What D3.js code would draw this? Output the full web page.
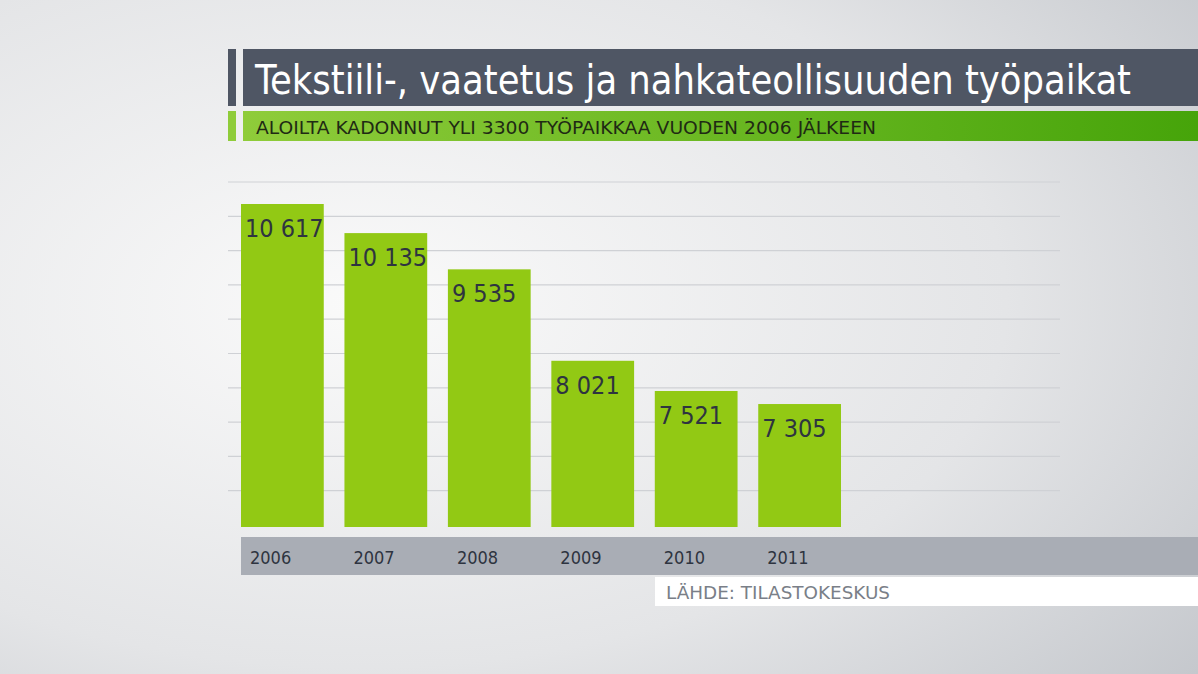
<!DOCTYPE html>
<html><head><meta charset="utf-8">
<script src="https://cdn.jsdelivr.net/npm/d3@7"></script>
<style>body{margin:0;overflow:hidden}</style>
</head><body>
<script>
var years = ["2006", "2007", "2008", "2009", "2010", "2011"];
var jobs = [10617, 10135, 9535, 8021, 7521, 7305];
var labels = ["10 617", "10 135", "9 535", "8 021", "7 521", "7 305"];

var W = 1198, H = 674;
var svg = d3.select("body").append("svg").attr("width", W).attr("height", H);
var defs = svg.append("defs");

var bg = defs.append("radialGradient").attr("id", "bg")
  .attr("cx", "0.3").attr("cy", "0.45").attr("r", "0.9");
bg.append("stop").attr("offset", "0").attr("stop-color", "#fafafa");
bg.append("stop").attr("offset", "0.6").attr("stop-color", "#e4e5e7");
bg.append("stop").attr("offset", "1").attr("stop-color", "#c4c7cc");
svg.append("rect").attr("width", W).attr("height", H).attr("fill", "url(#bg)");

var sg = defs.append("linearGradient").attr("id", "sub");
sg.append("stop").attr("offset", "0").attr("stop-color", "#8fcc3a");
sg.append("stop").attr("offset", "1").attr("stop-color", "#46a40a");

// title
svg.append("rect").attr("x", 228).attr("y", 49).attr("width", 8).attr("height", 57).attr("fill", "#4f5664");
svg.append("rect").attr("x", 243).attr("y", 49).attr("width", W - 243).attr("height", 57).attr("fill", "#4f5664");
svg.append("text").attr("x", 255).attr("y", 94)
  .attr("font-family", "DejaVu Sans Condensed, Open Sans").attr("font-size", 41)
  .attr("textLength", 876).attr("lengthAdjust", "spacingAndGlyphs")
  .attr("fill", "#fff").text("Tekstiili-, vaatetus ja nahkateollisuuden työpaikat");

// subtitle
svg.append("rect").attr("x", 228).attr("y", 111).attr("width", 8).attr("height", 30).attr("fill", "#8fcc3a");
svg.append("rect").attr("x", 243).attr("y", 111).attr("width", W - 243).attr("height", 30).attr("fill", "url(#sub)");
svg.append("text").attr("x", 256).attr("y", 134)
  .attr("font-family", "DejaVu Sans, Open Sans").attr("font-size", 17)
  .attr("textLength", 620).attr("lengthAdjust", "spacingAndGlyphs")
  .attr("fill", "#1f2a14").text("ALOILTA KADONNUT YLI 3300 TYÖPAIKKAA VUODEN 2006 JÄLKEEN");

// scales
var x = d3.scaleBand().domain(years).range([241, 841]).paddingInner(0.2).paddingOuter(0);
var y = d3.scaleLinear().domain([5269, 10617]).range([527, 204]);

// gridlines
d3.range(10).forEach(function(i){
  var gy = 182 + i * 34.3;
  svg.append("line").attr("x1", 228).attr("x2", 1060).attr("y1", gy).attr("y2", gy)
    .attr("stroke", "#cfd1d5").attr("stroke-width", 1.2);
});

var bars = svg.selectAll("g.bar").data(years).enter().append("g");
bars.append("rect")
  .attr("x", function(d){ return x(d); })
  .attr("y", function(d, i){ return y(jobs[i]); })
  .attr("width", x.bandwidth())
  .attr("height", function(d, i){ return 527 - y(jobs[i]); })
  .attr("fill", "#92c914");
bars.append("text")
  .attr("x", function(d){ return x(d) + 4; })
  .attr("y", function(d, i){ return y(jobs[i]) + 33; })
  .attr("font-family", "DejaVu Sans Condensed, Open Sans").attr("font-size", 25)
  .attr("fill", "#2e3440").text(function(d, i){ return labels[i]; });

// axis band
svg.append("rect").attr("x", 241).attr("y", 537).attr("width", W - 241).attr("height", 38).attr("fill", "#a9adb5");
var xa = svg.append("g").attr("transform", "translate(0,564)");
xa.selectAll("text").data(years).enter().append("text")
  .attr("x", function(d){ return x(d) + 9; })
  .attr("font-family", "DejaVu Sans Condensed, Open Sans").attr("font-size", 18)
  .attr("fill", "#2e3440").text(function(d){ return d; });

// source
svg.append("rect").attr("x", 655).attr("y", 577).attr("width", W - 655).attr("height", 29).attr("fill", "#fff");
svg.append("text").attr("x", 666).attr("y", 599)
  .attr("font-family", "DejaVu Sans, Open Sans").attr("font-size", 18)
  .attr("textLength", 224).attr("lengthAdjust", "spacingAndGlyphs")
  .attr("fill", "#7a7f88").text("LÄHDE: TILASTOKESKUS");
</script>
</body></html>
